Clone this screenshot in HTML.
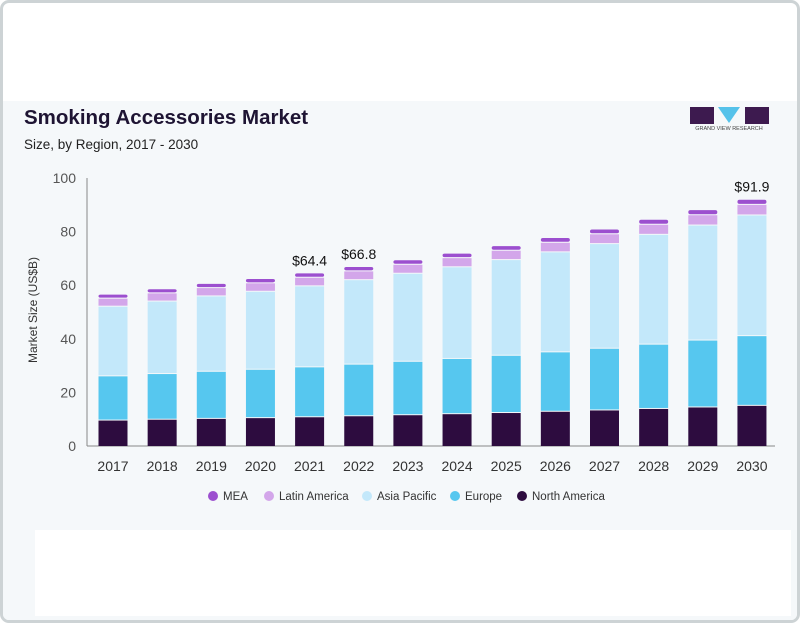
<!DOCTYPE html>
<html><head><meta charset="utf-8"><style>
body{margin:0;width:800px;height:623px;overflow:hidden;background:#fff;font-family:"Liberation Sans",sans-serif}
.frame{position:absolute;left:0;top:0;width:794px;height:617px;border:3px solid #cdd3d5;border-radius:9px;background:#fff;overflow:hidden}
.panel{position:absolute;left:0;top:98px;width:794px;height:519px;background:#f5f8fa}
.white{position:absolute;left:32px;top:527px;width:756px;height:86px;background:#fff}
</style></head><body>
<div class="frame"><div class="panel"></div><div class="white"></div></div>
<svg width="800" height="623" style="position:absolute;left:0;top:0" id="s">
<text x="24" y="124" font-size="20.5" font-weight="bold" fill="#1e1433">Smoking Accessories Market</text>
<text x="24" y="149" font-size="13.5" fill="#222">Size, by Region, 2017 - 2030</text>
<rect x="690" y="107" width="24" height="17" fill="#3d1a4f"/>
<polygon points="718,107 740,107 729,123" fill="#55c2ea"/>
<rect x="745" y="107" width="24" height="17" fill="#3d1a4f"/>
<text x="729" y="130" font-size="5.5" fill="#444" text-anchor="middle">GRAND VIEW RESEARCH</text>
<line x1="87" y1="178" x2="87" y2="446" stroke="#888"/>
<line x1="87" y1="446" x2="775" y2="446" stroke="#888"/>
<g id="g"></g>
<text x="37" y="310" font-size="12" fill="#333" transform="rotate(-90 37 310)" text-anchor="middle">Market Size (US$B)</text>
<g font-size="11.5" fill="#333">
<circle cx="213" cy="496" r="5" fill="#9c4fcf"/><text x="223" y="500">MEA</text>
<circle cx="269" cy="496" r="5" fill="#d3a6ea"/><text x="279" y="500">Latin America</text>
<circle cx="367" cy="496" r="5" fill="#c3e8fa"/><text x="377" y="500">Asia Pacific</text>
<circle cx="455" cy="496" r="5" fill="#56c7ef"/><text x="465" y="500">Europe</text>
<circle cx="522" cy="496" r="5" fill="#2d0c3f"/><text x="532" y="500">North America</text>
</g>
</svg>
<script>
var g=document.getElementById('g'),h='';
var tot=[56.5,58.5,60.5,62.3,64.4,66.8,69.3,71.8,74.6,77.6,80.8,84.4,88,91.9];
function Y(v){return 446-v*2.68}
for(var t=0;t<=100;t+=20)h+='<text x="76" y="'+(Y(t)+5)+'" font-size="14" fill="#555" text-anchor="end">'+t+'</text>';
for(var i=0;i<14;i++){var f=i/13,cx=113+i*49.15,x=cx-14.5,m=tot[i];
var na=m*(.168-.005*f),eu=m*(.46-.014*f),ap=m*(.92+.016*f),la=m*(.973+.006*f);
var s=[[0,na,'#2d0c3f'],[na,eu,'#56c7ef'],[eu,ap,'#c3e8fa'],[ap,la,'#d3a6ea'],[la,m,'#9c4fcf']];
s.forEach(function(a,k){var y1=Y(a[1]),y0=Y(a[0]);h+='<rect x="'+x+'" y="'+y1+'" width="29" height="'+(y0-y1-(k?1:0))+'" fill="'+a[2]+'"'+(k==4?' rx="2"':'')+'/>';});
h+='<text x="'+cx+'" y="471" font-size="14" fill="#333" text-anchor="middle">'+(2017+i)+'</text>';
if(i==4||i==5||i==13)h+='<text x="'+cx+'" y="'+(Y(m)-8)+'" font-size="14" fill="#111" text-anchor="middle">$'+m+'</text>';}
g.innerHTML=h;
</script>
</body></html>
